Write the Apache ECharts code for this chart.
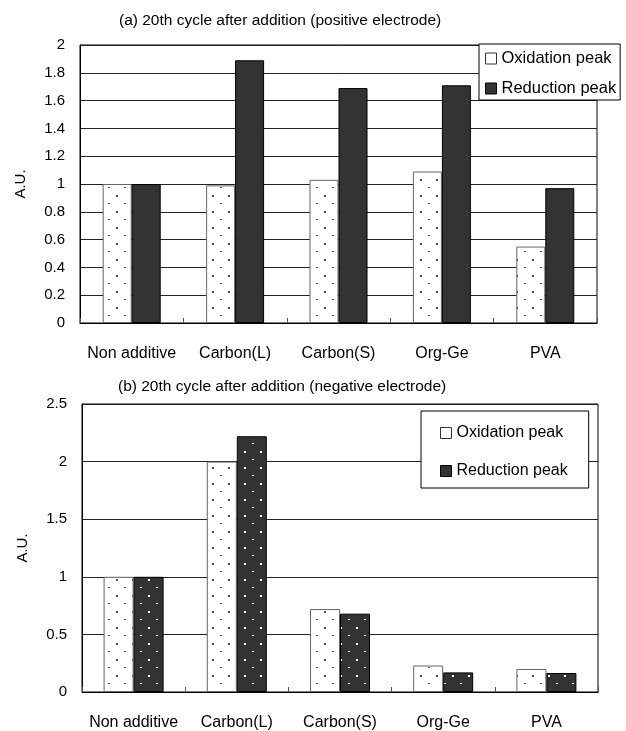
<!DOCTYPE html>
<html>
<head>
<meta charset="utf-8">
<script src="https://cdn.jsdelivr.net/npm/echarts@6/dist/echarts.min.js"></script>
<style>
	html,body{margin:0;padding:0;background:#fff;}
	#chart{width:626px;height:731px;}
</style>
</head>
<body>
<div id="chart"></div>
<script>
var categories = ['Non additive','Carbon(L)','Carbon(S)','Org-Ge','PVA'];
var seriesNames = ['Oxidation peak','Reduction peak'];

//(a) positive electrode
var posOxidation = [1.00, 0.99, 1.03, 1.09, 0.55];
var posReduction = [1.00, 1.89, 1.69, 1.71, 0.97];

//(b) negative electrode
var negOxidation = [1.00, 2.00, 0.72, 0.23, 0.20];
var negReduction = [1.00, 2.22, 0.68, 0.17, 0.165];

var titleA = '(a) 20th cycle after addition (positive electrode)';
var titleB = '(b) 20th cycle after addition (negative electrode)';
var yName = 'A.U.';

var FONT = '"Liberation Sans", Arial, sans-serif';

//点状填充
function dotPattern(bg, dot){
	var c = document.createElement('canvas');
	c.width = 16;
	c.height = 16;
	var ctx = c.getContext('2d');
	ctx.fillStyle = bg;
	ctx.fillRect(0, 0, 16, 16);
	ctx.fillStyle = dot;
	ctx.fillRect(4, 3, 2, 2);
	ctx.fillRect(12, 11, 2, 1);
	return {image: c, repeat: 'repeat'};
}

var oxFill = dotPattern('#ffffff', '#555555');
var redFillDots = dotPattern('#333333', '#ffffff');

function xAxisOf(idx){
	return {
		type: 'category',
		gridIndex: idx,
		data: categories,
		axisLine: {lineStyle: {color: '#000', width: 1}},
		axisTick: {show: true, inside: true, length: 5, interval: 0, lineStyle: {color: '#555'}},
		axisLabel: {margin: 23, fontSize: 16, color: '#000', fontFamily: FONT, interval: 0}
	};
}

function yAxisOf(idx, max, step){
	return {
		type: 'value',
		gridIndex: idx,
		min: 0,
		max: max,
		interval: step,
		name: yName,
		nameLocation: 'middle',
		nameGap: 52,
		nameTextStyle: {fontSize: 15, color: '#000', fontFamily: FONT},
		axisLine: {show: true, lineStyle: {color: '#000', width: 1}},
		axisTick: {show: false},
		axisLabel: {margin: 15, fontSize: 15, color: '#000', fontFamily: FONT},
		splitLine: {show: true, lineStyle: {color: '#222', width: 1}}
	};
}

function legendOf(left, top, fontSize, gap, pad){
	return {
		orient: 'vertical',
		left: left,
		top: top,
		padding: pad,
		itemGap: gap,
		itemWidth: 11,
		itemHeight: 11,
		backgroundColor: '#fff',
		borderColor: '#000',
		borderWidth: 1,
		borderRadius: 0,
		icon: 'rect',
		textStyle: {fontSize: fontSize, color: '#000', fontFamily: FONT},
		data: [
			{name: seriesNames[0], itemStyle: {color: '#fff', borderColor: '#333', borderWidth: 1}},
			{name: seriesNames[1], itemStyle: {color: '#333', borderColor: '#000', borderWidth: 1}}
		]
	};
}

var option = {
	animation: false,
	backgroundColor: '#fff',
	title: [
		{text: titleA, left: 114, top: 8, textStyle: {fontSize: 15.5, fontWeight: 'normal', color: '#000', fontFamily: FONT}},
		{text: titleB, left: 113, top: 374, textStyle: {fontSize: 15.5, fontWeight: 'normal', color: '#000', fontFamily: FONT}}
	],
	legend: [
		legendOf(479, 44, 16.5, 13, [6, 4, 3, 6]),
		legendOf(421, 411, 16, 22, [14, 21, 9, 19])
	],
	grid: [
		{left: 80, top: 45, width: 517, height: 278, show: true, borderColor: '#000', borderWidth: 1},
		{left: 82, top: 404, width: 516, height: 291, show: true, borderColor: '#000', borderWidth: 1}
	],
	xAxis: [xAxisOf(0), xAxisOf(1)],
	yAxis: [yAxisOf(0, 2, 0.2), yAxisOf(1, 2.5, 0.5)],
	series: [
		{
			name: seriesNames[0], type: 'bar', xAxisIndex: 0, yAxisIndex: 0,
			barWidth: 29, barGap: '0%',
			itemStyle: {color: oxFill, borderColor: '#666', borderWidth: 1},
			data: posOxidation
		},
		{
			name: seriesNames[1], type: 'bar', xAxisIndex: 0, yAxisIndex: 0,
			barWidth: 29, barGap: '0%',
			itemStyle: {color: '#333', borderColor: '#000', borderWidth: 1},
			data: posReduction
		},
		{
			name: seriesNames[0], type: 'bar', xAxisIndex: 1, yAxisIndex: 1,
			barWidth: 30, barGap: '0%',
			itemStyle: {color: oxFill, borderColor: '#666', borderWidth: 1},
			data: negOxidation
		},
		{
			name: seriesNames[1], type: 'bar', xAxisIndex: 1, yAxisIndex: 1,
			barWidth: 30, barGap: '0%',
			itemStyle: {color: redFillDots, borderColor: '#000', borderWidth: 1},
			data: negReduction
		}
	]
};

var myChart = echarts.init(document.getElementById('chart'));
myChart.setOption(option);
</script>
</body>
</html>
